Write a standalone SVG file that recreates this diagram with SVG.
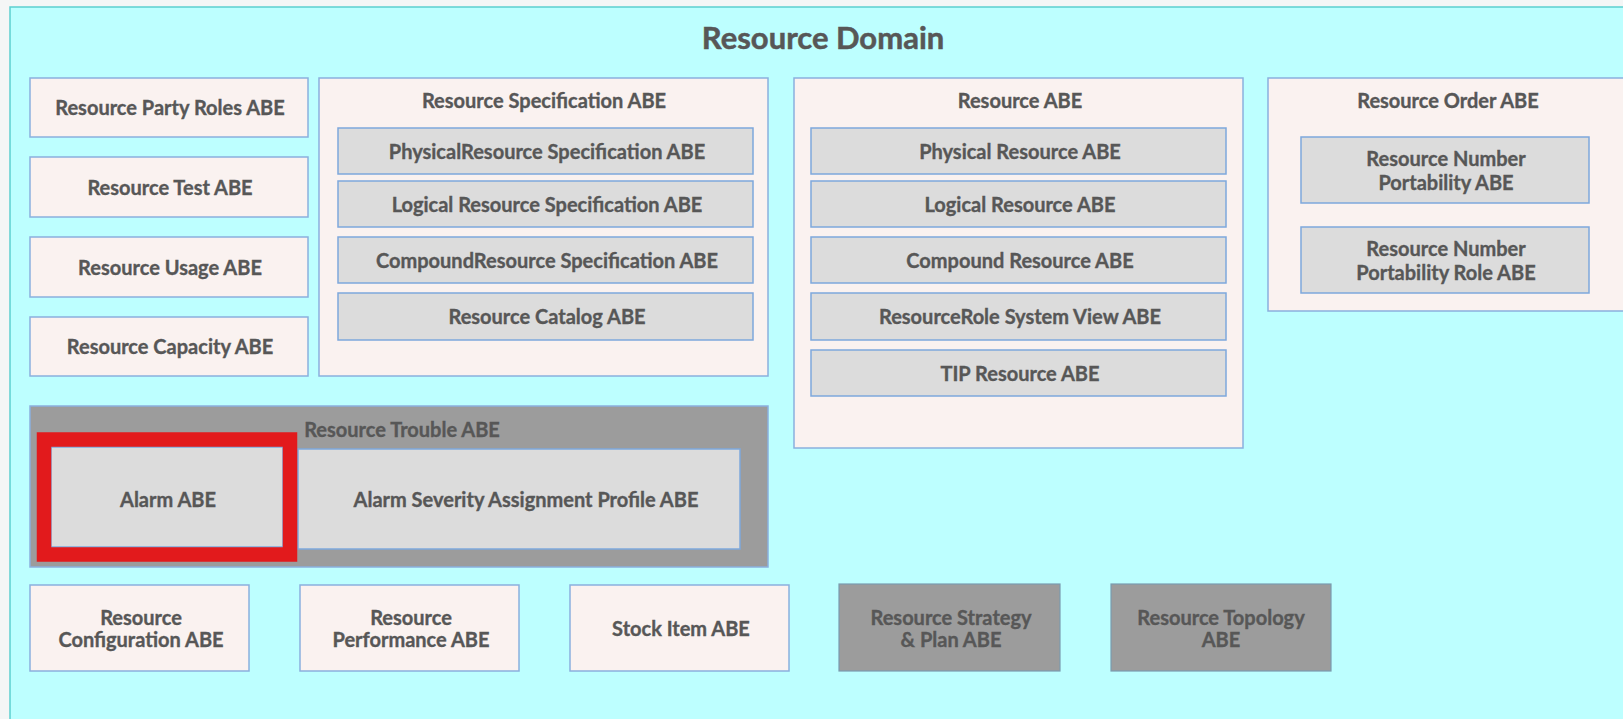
<svg xmlns="http://www.w3.org/2000/svg" width="1623" height="719" viewBox="0 0 1623 719">
<style>
.t{font-family:Lato,"Liberation Sans",sans-serif;font-weight:bold;font-size:20px;fill:#575757;stroke:#575757;stroke-width:0.35;text-anchor:middle;dominant-baseline:central}
.title{font-size:31px;stroke-width:0.5}
.box{fill:#FAF2F0;stroke:#8AB0DE;stroke-width:1.5}
.in{fill:#DCDCDC;stroke:#7EA8DC;stroke-width:1.5}
.dark{fill:#9C9C9C;stroke:#7A9CB0;stroke-width:1.2}
.trouble{fill:#9C9C9C;stroke:#8AB0DE;stroke-width:1.5}
</style>
<rect x="0" y="0" width="1623" height="719" fill="#F4F6F6"/>
<g id="resource-domain">
<rect x="10" y="7" width="1640" height="730" fill="#BDFFFF" stroke="#5CCFD0" stroke-width="1.5"/>
<text class="t title" x="823" y="37">Resource Domain</text>
</g>
<g id="party-roles"><rect class="box" x="30" y="78" width="278" height="59"/><text class="t" x="170" y="107">Resource Party Roles ABE</text></g>
<g id="test"><rect class="box" x="30" y="157" width="278" height="60"/><text class="t" x="170" y="187">Resource Test ABE</text></g>
<g id="usage"><rect class="box" x="30" y="237" width="278" height="60"/><text class="t" x="170" y="267">Resource Usage ABE</text></g>
<g id="capacity"><rect class="box" x="30" y="317" width="278" height="59"/><text class="t" x="170" y="346">Resource Capacity ABE</text></g>
<g id="spec">
<rect class="box" x="319" y="78" width="449" height="298"/>
<text class="t" x="544" y="100">Resource Specification ABE</text>
<g id="spec-physical"><rect class="in" x="338" y="128" width="415" height="46"/><text class="t" x="547" y="151">PhysicalResource Specification ABE</text></g>
<g id="spec-logical"><rect class="in" x="338" y="181" width="415" height="46"/><text class="t" x="547" y="204">Logical Resource Specification ABE</text></g>
<g id="spec-compound"><rect class="in" x="338" y="237" width="415" height="46"/><text class="t" x="547" y="260">CompoundResource Specification ABE</text></g>
<g id="spec-catalog"><rect class="in" x="338" y="293" width="415" height="47"/><text class="t" x="547" y="316">Resource Catalog ABE</text></g>
</g>
<g id="resource">
<rect class="box" x="794" y="78" width="449" height="370"/>
<text class="t" x="1020" y="100">Resource ABE</text>
<g id="res-physical"><rect class="in" x="811" y="128" width="415" height="46"/><text class="t" x="1020" y="151">Physical Resource ABE</text></g>
<g id="res-logical"><rect class="in" x="811" y="181" width="415" height="46"/><text class="t" x="1020" y="204">Logical Resource ABE</text></g>
<g id="res-compound"><rect class="in" x="811" y="237" width="415" height="46"/><text class="t" x="1020" y="260">Compound Resource ABE</text></g>
<g id="res-role"><rect class="in" x="811" y="293" width="415" height="47"/><text class="t" x="1020" y="316">ResourceRole System View ABE</text></g>
<g id="res-tip"><rect class="in" x="811" y="350" width="415" height="46"/><text class="t" x="1020" y="373">TIP Resource ABE</text></g>
</g>
<g id="order">
<rect class="box" x="1268" y="78" width="380" height="233"/>
<text class="t" x="1448" y="100">Resource Order ABE</text>
<g id="rnp"><rect class="in" x="1301" y="137" width="288" height="66"/><text class="t" x="1446" y="158">Resource Number</text><text class="t" x="1446" y="182">Portability ABE</text></g>
<g id="rnpr"><rect class="in" x="1301" y="227" width="288" height="66"/><text class="t" x="1446" y="248">Resource Number</text><text class="t" x="1446" y="272">Portability Role ABE</text></g>
</g>
<g id="trouble">
<rect class="trouble" x="30" y="406" width="738" height="161"/>
<text class="t" x="402" y="429">Resource Trouble ABE</text>
<g id="severity"><rect class="in" x="298" y="449" width="442" height="100"/><text class="t" x="526" y="499">Alarm Severity Assignment Profile ABE</text></g>
<g id="alarm"><rect class="in" x="51" y="447" width="232" height="100"/><text class="t" x="168" y="499">Alarm ABE</text>
<rect x="44" y="439.5" width="246" height="115" fill="none" stroke="#E21A1C" stroke-width="14.5"/></g>
</g>
<g id="config"><rect class="box" x="30" y="585" width="219" height="86"/><text class="t" x="141" y="617">Resource</text><text class="t" x="141" y="639">Configuration ABE</text></g>
<g id="performance"><rect class="box" x="300" y="585" width="219" height="86"/><text class="t" x="411" y="617">Resource</text><text class="t" x="411" y="639">Performance ABE</text></g>
<g id="stock"><rect class="box" x="570" y="585" width="219" height="86"/><text class="t" x="681" y="628">Stock Item ABE</text></g>
<g id="strategy"><rect class="dark" x="839" y="584" width="221" height="87"/><text class="t" x="951" y="617">Resource Strategy</text><text class="t" x="951" y="639">&amp; Plan ABE</text></g>
<g id="topology"><rect class="dark" x="1111" y="584" width="220" height="87"/><text class="t" x="1221" y="617">Resource Topology</text><text class="t" x="1221" y="639">ABE</text></g>
<g id="connectors"/>
</svg>
